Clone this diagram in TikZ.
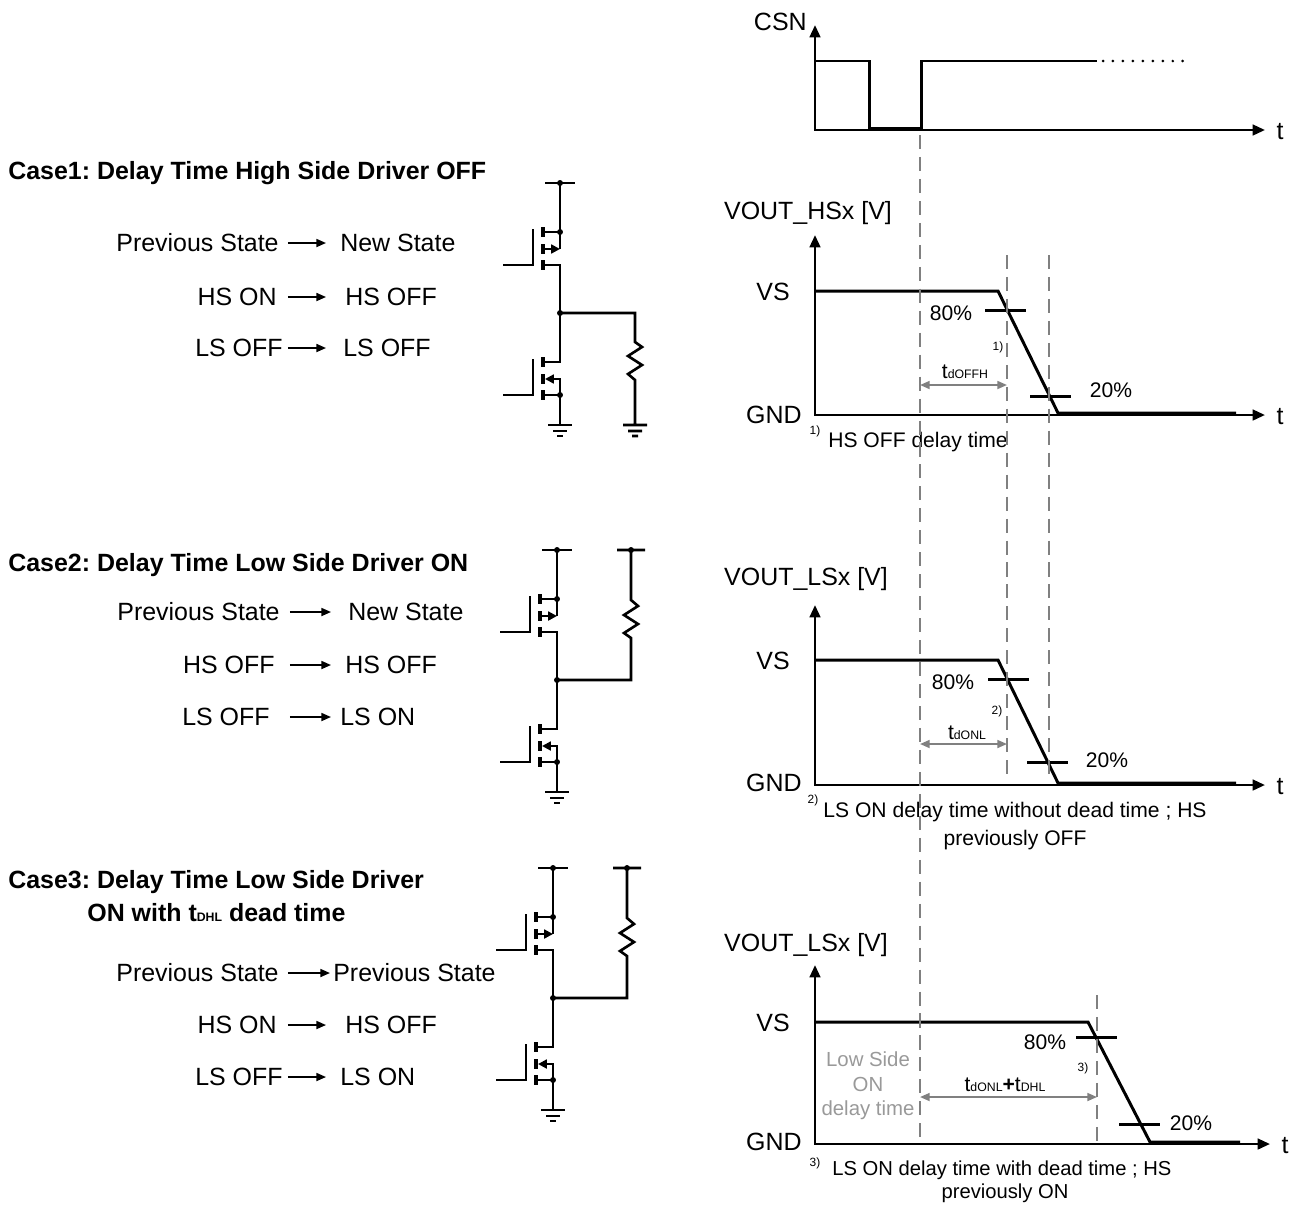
\documentclass[tikz,border=0pt]{standalone}
\usepackage{fontspec}
\setmainfont{Liberation Sans}
\usetikzlibrary{arrows.meta}
\newcommand\lowtxt[1]{{\fontsize{7}{8}\selectfont #1}}
\tikzset{
  big/.style={font=\fontsize{14.2}{17}\selectfont,inner sep=0pt},
  head/.style={font=\fontsize{14.2}{17}\selectfont\bfseries,inner sep=0pt,anchor=west},
  mid/.style={font=\fontsize{12}{14}\selectfont,inner sep=0pt},
  tiny/.style={font=\fontsize{6.8}{8}\selectfont,inner sep=0pt},
  wave/.style={line width=1.7pt},
  axes/.style={line width=1.5pt,{Triangle[length=7pt,width=6pt]}-{Triangle[length=7pt,width=6pt]}},
  guide/.style={draw=gray,line width=1.1pt,dash pattern=on 8pt off 4.5pt},
  span/.style={draw=gray,line width=1.1pt,{Triangle[length=5.5pt,width=4.5pt]}-{Triangle[length=5.5pt,width=4.5pt]}},
  goes/.style={line width=1.1pt,-{Triangle[length=5.5pt,width=4.5pt]}},
  wire/.style={line width=1.5pt},
  chan/.style={line width=1.9pt},
  body/.style={wire,-{Triangle[length=5pt,width=5pt]}},
  dotline/.style={line width=1.7pt,line cap=round,dash pattern=on 0pt off 5.67pt}
}
\begin{document}
\frenchspacing
\begin{tikzpicture}[x=0.02cm,y=-0.02cm]
\useasboundingbox (0,0) rectangle (1300,1204);
% cases on the left
\node[head] (case1) at (8,173) {Case1: Delay Time High Side Driver OFF};
\node[head] (case2) at (8,565) {Case2: Delay Time Low Side Driver ON};
\node[head] (case3) at (8,882) {Case3: Delay Time Low Side Driver};
\node[head] (case3b) at (87,913) {ON with t\lowtxt{\bfseries DHL} dead time};
\foreach \n/\y/\l/\le/\r/\rw/\a/\b in {
  a/243/Previous State/279/New State/340/288/326,
  b/297/HS ON/277/HS OFF/345/288/326,
  c/348/LS OFF/283/LS OFF/343/288/326,
  d/612/Previous State/280/New State/348/290/331,
  e/665/HS OFF/275/HS OFF/345/290/331,
  f/717/LS OFF/270/LS ON/340/290/331,
  g/973/Previous State/279/Previous State/333/288/330,
  h/1025/HS ON/277/HS OFF/345/288/326,
  i/1077/LS OFF/283/LS ON/340/288/326}{
  \node[big,anchor=east] (\n l) at (\le,\y) {\l};
  \node[big,anchor=west] (\n r) at (\rw,\y) {\r};
  \pgfmathsetmacro\sa{(\a-\le)*0.5669}
  \pgfmathsetmacro\sb{(\rw-\b)*0.5669}
  \draw[goes,shorten <=\sa pt,shorten >=\sb pt] (\n l.east) -- (\n r.west);
}
% half bridges
\foreach \i/\cx/\cy in {1/560/183,2/557/550,3/553/868}{
  \path (\cx,\cy) coordinate (top\i) ++(0,130) coordinate (out\i) ++(0,112) coordinate (gnd\i);
  \draw[wire] (top\i) ++(-15,0) -- ++(30,0);
  \draw[wire] (top\i) -- ++(0,66);
  \draw[wire] (top\i) ++(-17,49) -- ++(17,0);
  \draw[body] (top\i) ++(-17,66) -- ++(17,0);
  \draw[wire] (top\i) ++(-17,82) -- ++(17,0) -- (out\i);
  \draw[wire] (out\i) -- ++(0,49) -- ++(-17,0);
  \draw[body] (out\i) ++(0,82) -- ++(0,-16) -- ++(-15,0);
  \draw[wire] (out\i) ++(-17,82) -- ++(17,0) -- (gnd\i);
  \foreach \p in {top\i,out\i}{
    \draw[chan] (\p) ++(-17,44) -- ++(0,10) ++(0,7) -- ++(0,10) ++(0,6) -- ++(0,10);
    \draw[wire] (\p) ++(-57,82) -- ++(30,0) -- ++(0,-36);
  }
  \draw[wire] (gnd\i) ++(-12,0) -- ++(24,0) ++(-19,6) -- ++(14,0) ++(-10,5) -- ++(6,0);
  \fill (top\i) circle (1.7pt) ++(0,49) circle (1.7pt);
  \fill (out\i) circle (1.7pt) ++(0,82) circle (1.7pt);
}
\draw[wire] (out1) -- ++(75,0) -- ++(0,29) -- ++(7,5) -- ++(-14,9) -- ++(14,9) -- ++(-14,9) -- ++(7,6) -- ++(0,45)
  ++(-12,0) -- ++(24,0) ++(-19,6) -- ++(14,0) ++(-10,5) -- ++(6,0);
\foreach \i in {2,3}{
  \draw[wire] (out\i) -- ++(74,0) -- ++(0,-42) -- ++(-7,-5) -- ++(14,-9) -- ++(-14,-9) -- ++(14,-9) -- ++(-7,-6) -- ++(0,-50)
    ++(-14,0) -- ++(28,0);
  \fill (out\i) ++(74,-130) circle (1.7pt);
}
% CSN
\path (815,130) coordinate (c0) (815,25) coordinate (cy) (1265,130) coordinate (cx);
\draw[axes] (cy) -- (c0) -- (cx);
\node[big,anchor=east] (csn) at (807,22) {CSN};
\node[big] (ct) at (1280,132) {t};
\draw[wave] (815,61) -- (869,61) -- (869,128) -- (921,128) -- (921,61) -- (1097,61);
\draw[dotline] (1103,61) -- (1186,61);
% VOUT_HSx
\path (815,415) coordinate (h0) (815,235) coordinate (hy) (1265,415) coordinate (hx);
\draw[axes] (hy) -- (h0) -- (hx);
\node[big] (hlab) at (808,213) {VOUT\_HSx [V]};
\node[big,anchor=east] (hvs) at (790,292) {VS};
\node[big,anchor=east] (hgnd) at (802,415) {GND};
\node[big] (ht) at (1280,417) {t};
\draw[wave] (815,291) -- (998,291) -- (1058,413) -- (1236,413);
\draw[wave] (985,310) -- (1026,310) (1030,396) -- (1071,396);
\node[mid] (h80) at (951,313) {80\%};
\node[mid] (h20) at (1111,390) {20\%};
\node[tiny] (hn) at (998,347) {1)};
\path (920,385) coordinate (hs1) (1007,385) coordinate (hs2);
\draw[span] (hs1) -- (hs2);
\node[mid] (htd) at (965,372) {t\lowtxt{dOFFH}};
\node[tiny] (hf) at (815,431) {1)};
\node[mid,anchor=west] (hft) at (828,442) {HS OFF delay time};
% VOUT_LSx, case 2
\path (815,785) coordinate (l0) (815,605) coordinate (ly) (1265,785) coordinate (lx);
\draw[axes] (ly) -- (l0) -- (lx);
\node[big] (llab) at (806,579) {VOUT\_LSx [V]};
\node[big,anchor=east] (lvs) at (790,661) {VS};
\node[big,anchor=east] (lgnd) at (802,783) {GND};
\node[big] (lt) at (1280,787) {t};
\draw[wave] (815,660) -- (998,660) -- (1058,783) -- (1236,783);
\draw[wave] (988,679) -- (1029,679) (1027,762) -- (1068,762);
\node[mid] (l80) at (953,682) {80\%};
\node[mid] (l20) at (1107,760) {20\%};
\node[tiny] (ln) at (997,711) {2)};
\path (920,744) coordinate (ls1) (1007,744) coordinate (ls2);
\draw[span] (ls1) -- (ls2);
\node[mid] (ltd) at (967,733) {t\lowtxt{dONL}};
\node[tiny] (lf) at (813,800) {2)};
\node[mid] (lft) at (1015,812) {LS ON delay time without dead time ; HS};
\node[mid] (lft2) at (1015,840) {previously OFF};
% VOUT_LSx, case 3
\path (815,1144) coordinate (d0) (815,965) coordinate (dy) (1270,1144) coordinate (dx);
\draw[axes] (dy) -- (d0) -- (dx);
\node[big] (dlab) at (806,945) {VOUT\_LSx [V]};
\node[big,anchor=east] (dvs) at (790,1023) {VS};
\node[big,anchor=east] (dgnd) at (802,1142) {GND};
\node[big] (dt) at (1285,1146) {t};
\draw[wave] (815,1022) -- (1088,1022) -- (1150,1142) -- (1240,1142);
\draw[wave] (1076,1037) -- (1117,1037) (1119,1124) -- (1160,1124);
\node[mid] (d80) at (1045,1042) {80\%};
\node[mid] (d20) at (1191,1123) {20\%};
\node[tiny] (dn) at (1083,1068) {3)};
\path (920,1097) coordinate (ds1) (1097,1097) coordinate (ds2);
\draw[span] (ds1) -- (ds2);
\node[mid] (dtd) at (1005,1085) {t\lowtxt{dONL}\textbf{+}t\lowtxt{DHL}};
\node[mid,text=gray!80,align=center,font=\fontsize{11.6}{13.9}\selectfont] (dlow) at (868,1086) {Low Side\\ON\\delay time};
\node[tiny] (df) at (815,1163) {3)};
\node[mid,anchor=west,font=\fontsize{11.5}{14}\selectfont] (dft) at (832,1170) {LS ON delay time with dead time ; HS};
\node[mid,font=\fontsize{11.5}{14}\selectfont] (dft2) at (1005,1193) {previously ON};
% dashed guides
\draw[guide] (920,135) -- (920,1140);
\draw[guide] (1007,255) -- (1007,778) (1049,255) -- (1049,778);
\draw[guide] (1097,995) -- (1097,1144);
\end{tikzpicture}
\end{document}
